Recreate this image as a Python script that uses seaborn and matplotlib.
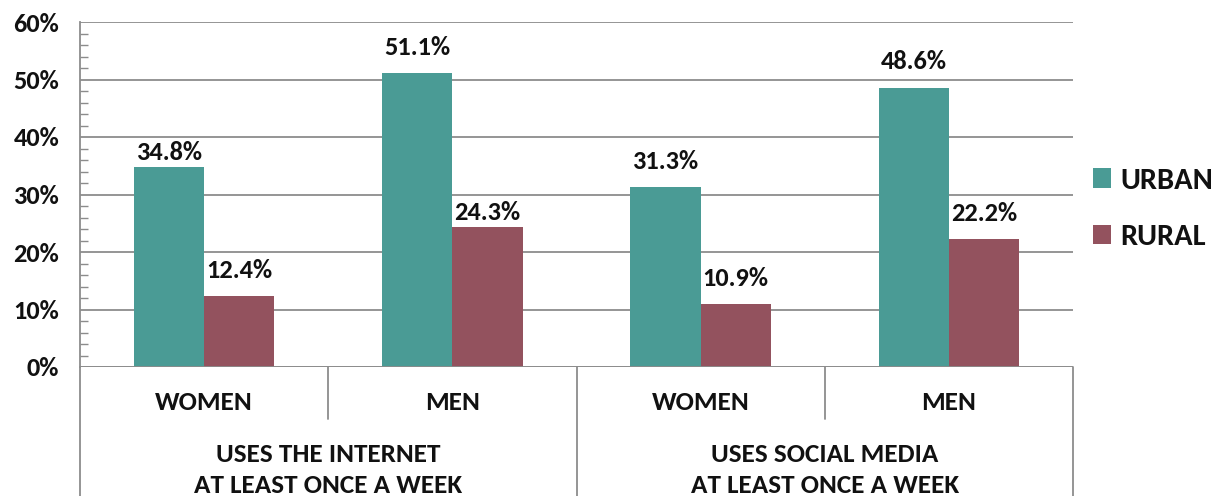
import matplotlib
matplotlib.use("Agg")
import matplotlib.pyplot as plt
import matplotlib.transforms as mtransforms
import seaborn as sns
import pandas as pd
from matplotlib.ticker import MultipleLocator, FuncFormatter

groups = ["USES THE INTERNET\nAT LEAST ONCE A WEEK", "USES SOCIAL MEDIA\nAT LEAST ONCE A WEEK"]
genders = ["WOMEN", "MEN", "WOMEN", "MEN"]
series = ["URBAN", "RURAL"]
urban = [34.8, 51.1, 31.3, 48.6]
rural = [12.4, 24.3, 10.9, 22.2]
colors = ["#4A9B95", "#93525E"]

# label baseline offsets above bar tops (points), as placed in the reference
label_offsets = {"URBAN": [5, 13, 13, 13], "RURAL": [13, 5, 13, 13]}

cats = ["c0", "c1", "c2", "c3"]
df = pd.DataFrame({
    "cat": cats * 2,
    "series": [series[0]] * 4 + [series[1]] * 4,
    "value": urban + rural,
})

sns.set_theme(style="white")
plt.rcParams["font.family"] = ["Carlito", "DejaVu Sans"]
plt.rcParams["font.weight"] = "bold"

fig = plt.figure(figsize=(12.24, 4.96), dpi=100)
ax = fig.add_axes([80 / 1224, 1 - 367 / 496, (1073 - 80) / 1224, (367 - 22) / 496])

sns.barplot(data=df, x="cat", y="value", hue="series", order=cats, hue_order=series,
            palette=colors, width=0.565, gap=0, saturation=1, ax=ax, legend=True,
            edgecolor="none", linewidth=0)

ax.set_xlim(-0.5, 3.5)
ax.set_ylim(0, 60)
ax.set_xlabel("")
ax.set_ylabel("")
grid_c = "#8C8C8C"
ax.yaxis.set_major_locator(MultipleLocator(10))
ax.yaxis.set_minor_locator(MultipleLocator(2))
ax.yaxis.set_major_formatter(FuncFormatter(lambda v, p: f"{int(v)}%"))
ax.grid(axis="y", which="major", color=grid_c, linewidth=1.3)
ax.set_axisbelow(True)
ax.tick_params(axis="y", which="major", direction="out", length=8, width=1.3, color=grid_c,
               labelsize=19, pad=7, labelcolor="#111111")
ax.tick_params(axis="y", which="minor", direction="in", length=6, width=1, color=grid_c, left=True)
ax.tick_params(axis="x", bottom=False, labelbottom=False)
for lab in ax.get_yticklabels():
    lab.set_fontweight("bold")
for s in ["top", "right", "bottom"]:
    ax.spines[s].set_visible(False)
ax.spines["left"].set_color(grid_c)
ax.spines["left"].set_linewidth(1.3)
ax.axhline(0, color=grid_c, linewidth=1.3, zorder=3)

# value labels
for cont, name in zip(ax.containers, series):
    for bar, v, off in zip(cont.patches, cont.datavalues, label_offsets[name]):
        ax.annotate(f"{v:.1f}%", (bar.get_x() + bar.get_width() / 2, bar.get_height()),
                    xytext=(0, off), textcoords="offset points", ha="center", va="baseline",
                    fontsize=19, fontweight="bold", color="#111111")

# category axis decorations
trans = mtransforms.blended_transform_factory(ax.transData, ax.transAxes)
px = 1 / 345.0
for xb in [0.5, 2.5]:
    ax.plot([xb, xb], [0, -52 * px], transform=trans, color=grid_c, lw=1.3, clip_on=False)
for xb in [-0.5, 1.5, 3.5]:
    ax.plot([xb, xb], [0, -140 * px], transform=trans, color=grid_c, lw=1.3, clip_on=False)
for i, g in enumerate(genders):
    ax.text(i, -35 * px, g, transform=trans, ha="center", va="center", fontsize=19.5,
            fontweight="bold", color="#111111")
for j, g in enumerate(groups):
    ax.text(2 * j + 0.5, -103 * px, g, transform=trans, ha="center", va="center", fontsize=19.5,
            fontweight="bold", color="#111111", linespacing=1.45)

leg = ax.legend(loc="center left", bbox_to_anchor=(1093 / 1224, 1 - 209 / 496),
                bbox_transform=fig.transFigure, frameon=False, borderpad=0, borderaxespad=0,
                prop={"size": 22, "weight": "bold"}, handlelength=0.6, handleheight=0.6,
                handletextpad=0.3, labelspacing=1.0)
for t in leg.get_texts():
    t.set_color("#111111")

fig.savefig("out.png", dpi=100)
